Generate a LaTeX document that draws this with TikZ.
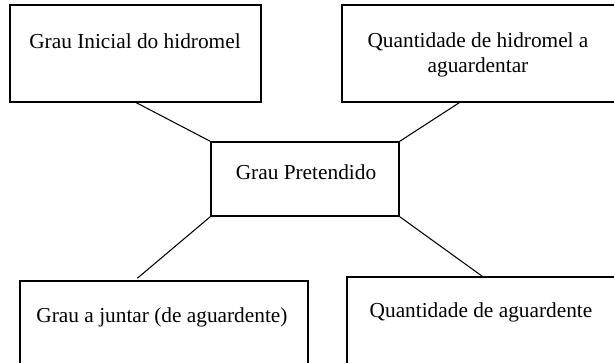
\documentclass[tikz,border=0pt]{standalone}
\usepackage{fontspec}
\setmainfont{Liberation Serif}
\usetikzlibrary{positioning,calc,fit}

\begin{document}
\begin{tikzpicture}[
  x=0.03cm, y=-0.03cm,
  box/.style={
    rectangle, draw=black, line width=1.2pt, inner sep=0pt
  },
  txt/.style={font=\fontsize{18.2}{21.3}\selectfont, align=center, inner sep=0pt},
  link/.style={line width=0.9pt, black}
]
\useasboundingbox (0,0) rectangle (614,363);
\clip (0,0) rectangle (614,363);

% === Boxes ===
\node[box, fit={(10,5) (261,102)}] (inicial) {};
\node[box, fit={(342,5) (640,102)}] (quanthid) {};
\node[box, fit={(211,142) (399,216)}] (pretendido) {};
\node[box, fit={(20,281) (308,395)}] (juntar) {};
\node[box, fit={(347,277) (640,395)}] (quantag) {};

% === Box texts ===
\node[txt, anchor=base] (t-inicial) at (135,48) {Grau Inicial do hidromel};
\node[txt, anchor=base] (t-quanthid) at (478,72) {Quantidade de hidromel a\\aguardentar};
\node[txt, anchor=base] (t-pretendido) at (306,179) {Grau Pretendido};
\node[txt, anchor=base] (t-juntar) at (162,322) {Grau a juntar (de aguardente)};
\node[txt, anchor=base] (t-quantag) at (481,317) {Quantidade de aguardente};

% === Connectors ===
\draw[link] ($(inicial.south west)+(127,0)$) -- (pretendido.north west);
\draw[link] ($(quanthid.south west)+(118,0)$) -- (pretendido.north east);
\draw[link] (pretendido.south west) -- ($(juntar.north west)+(118,-2)$);
\draw[link] (pretendido.south east) -- ($(quantag.north west)+(136,0)$);

\end{tikzpicture}
\end{document}
